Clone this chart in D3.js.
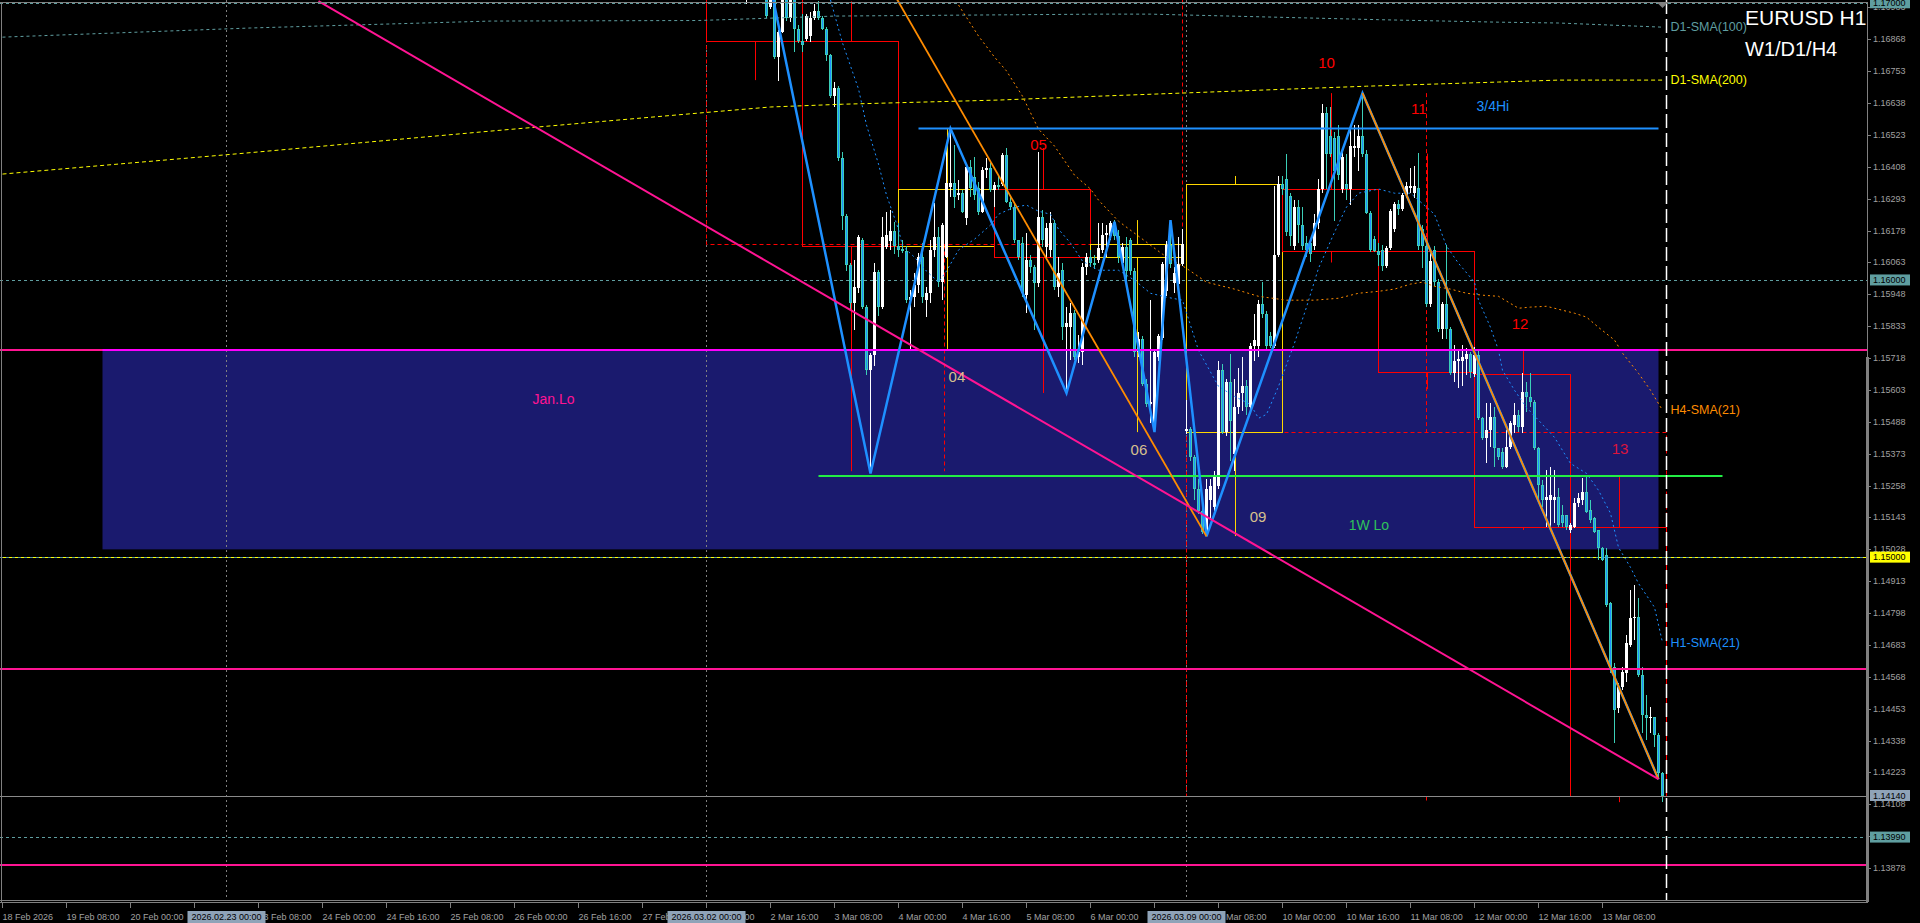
<!DOCTYPE html>
<html>
<head>
<meta charset="utf-8">
<script src="https://cdn.jsdelivr.net/npm/d3@7/dist/d3.min.js"></script>
<style>
html,body{margin:0;padding:0;background:#000;overflow:hidden;}
svg{display:block;}
text{font-family:"Liberation Sans",Arial,sans-serif;}
</style>
</head>
<body>
<svg id="chart" width="1920" height="923"></svg>
<script>
// ================= DATA =================
const titleText = "EURUSD H1";
const subTitleText = "W1/D1/H4";

// H1 bars [open, high, low, close]; one array per trading day
const mar02FirstHour = 10;
const mar02 = [
[1.17060,1.17150,1.16996,1.17110],[1.17110,1.17180,1.17040,1.17150],[1.17150,1.17200,1.17080,1.17100],
[1.17100,1.17140,1.17030,1.17060],[1.17060,1.17120,1.17030,1.17060],[1.17060,1.17090,1.16945,1.16952],
[1.16985,1.17060,1.16978,1.17030],[1.17030,1.17050,1.16797,1.16804],[1.16804,1.16902,1.16718,1.16894],
[1.16894,1.17050,1.16890,1.17020],[1.17020,1.17060,1.16934,1.16945],[1.16945,1.17040,1.16931,1.17020],
[1.17020,1.17040,1.16822,1.16905],[1.16905,1.16920,1.16855,1.16862]];
const mar03 = [
[1.16862,1.16960,1.16822,1.16848],[1.16869,1.16960,1.16862,1.16952],[1.16880,1.16967,1.16858,1.16945],
[1.16945,1.16996,1.16938,1.16970],[1.16970,1.17005,1.16938,1.16945],[1.16945,1.16952,1.16902,1.16905],
[1.16905,1.16913,1.16790,1.16812],[1.16812,1.16815,1.16656,1.16664],[1.16664,1.16714,1.16624,1.16692],
[1.16692,1.16700,1.16429,1.16440],[1.16440,1.16461,1.16180,1.16230],[1.16230,1.16237,1.16032,1.16053],
[1.16053,1.16061,1.15887,1.15916],[1.15916,1.16072,1.15819,1.15974],[1.15971,1.16162,1.15952,1.16154],
[1.16144,1.16151,1.15894,1.15902],[1.15902,1.15909,1.15657,1.15675],[1.15675,1.15736,1.15302,1.15729],
[1.15729,1.16061,1.15689,1.16028],[1.16028,1.16036,1.15869,1.15902],[1.15902,1.16227,1.15894,1.16154],
[1.16118,1.16245,1.16111,1.16162],[1.16140,1.16252,1.16108,1.16176],[1.16176,1.16209,1.16094,1.16122]];
const mar04 = [
[1.16122,1.16205,1.16083,1.16108],[1.16111,1.16144,1.16097,1.16104],[1.16104,1.16122,1.15916,1.15927],
[1.15927,1.15963,1.15747,1.15938],[1.15938,1.16025,1.15902,1.15981],[1.15981,1.16097,1.15952,1.16082],
[1.16082,1.16133,1.15916,1.15938],[1.15927,1.15974,1.15866,1.15952],[1.15952,1.16144,1.15916,1.16108],
[1.16108,1.16277,1.16083,1.16154],[1.16154,1.16191,1.15974,1.15992],[1.15992,1.16205,1.15927,1.16198],
[1.16083,1.16479,1.16080,1.16349],[1.16335,1.16546,1.16299,1.16349],[1.16349,1.16487,1.16259,1.16299],
[1.16306,1.16360,1.16288,1.16313],[1.16313,1.16324,1.16241,1.16245],[1.16223,1.16414,1.16198,1.16407],
[1.16407,1.16433,1.16299,1.16331],[1.16371,1.16443,1.16288,1.16306],[1.16331,1.16353,1.16234,1.16245],
[1.16245,1.16407,1.16241,1.16396],[1.16396,1.16440,1.16367,1.16404],[1.16404,1.16422,1.16317,1.16324]];
const mar05 = [
[1.16324,1.16353,1.16263,1.16342],[1.16342,1.16378,1.16324,1.16335],[1.16346,1.16458,1.16338,1.16451],
[1.16451,1.16476,1.16277,1.16281],[1.16281,1.16299,1.16252,1.16263],[1.16263,1.16277,1.16133,1.16144],
[1.16144,1.16144,1.16072,1.16083],[1.16133,1.16155,1.15938,1.15952],[1.15945,1.16169,1.15880,1.16072],
[1.16072,1.16090,1.16025,1.16046],[1.16046,1.16054,1.15819,1.15989],[1.15989,1.16461,1.15974,1.16227],
[1.16227,1.16252,1.16118,1.16144],[1.16118,1.16205,1.16072,1.16187],[1.16108,1.16245,1.16083,1.16205],
[1.16205,1.16216,1.15963,1.15974],[1.15974,1.16083,1.15938,1.16025],[1.16036,1.16061,1.15783,1.15830],
[1.15830,1.15902,1.15592,1.15844],[1.15830,1.15916,1.15711,1.15880],[1.15880,1.15891,1.15711,1.15721],
[1.15721,1.15800,1.15700,1.15740],[1.15740,1.16061,1.15693,1.16046],[1.16046,1.16097,1.16018,1.16083]];
const mar06 = [
[1.16083,1.16108,1.16046,1.16061],[1.16061,1.16090,1.16040,1.16054],[1.16072,1.16205,1.16061,1.16115],
[1.16108,1.16205,1.16097,1.16162],[1.16162,1.16198,1.16083,1.16169],[1.16158,1.16212,1.16144,1.16205],
[1.16205,1.16216,1.16144,1.16158],[1.16158,1.16180,1.16061,1.16083],[1.16061,1.16133,1.16046,1.16118],
[1.16118,1.16155,1.15992,1.16032],[1.16144,1.16151,1.16018,1.16032],[1.16032,1.16043,1.15721,1.15739],
[1.15739,1.15812,1.15721,1.15786],[1.15786,1.15797,1.15617,1.15624],[1.15624,1.15642,1.15541,1.15552],
[1.15552,1.15927,1.15483,1.15559],[1.15461,1.15747,1.15451,1.15739],[1.15721,1.15804,1.15707,1.15797],
[1.15790,1.16064,1.15783,1.16057],[1.15960,1.16140,1.15941,1.16126],[1.16126,1.16216,1.16043,1.16057],
[1.15989,1.16046,1.15952,1.16025],[1.15985,1.16155,1.15974,1.16057],[1.16057,1.16183,1.16050,1.16129]];
const mar09 = [
[1.15454,1.15566,1.15443,1.15461],[1.15461,1.15469,1.15346,1.15360],[1.15360,1.15367,1.15206,1.15245],
[1.15245,1.15281,1.15154,1.15165],[1.15165,1.15206,1.15082,1.15090],[1.15090,1.15281,1.15075,1.15245],
[1.15206,1.15281,1.15140,1.15256],[1.15180,1.15310,1.15165,1.15295],[1.15256,1.15707,1.15245,1.15675],
[1.15675,1.15696,1.15443,1.15451],[1.15451,1.15642,1.15436,1.15631],[1.15631,1.15732,1.15346,1.15490],
[1.15371,1.15642,1.15310,1.15541],[1.15541,1.15682,1.15515,1.15592],[1.15592,1.15721,1.15526,1.15617],
[1.15617,1.15639,1.15512,1.15541],[1.15541,1.15772,1.15515,1.15761],[1.15761,1.15877,1.15707,1.15783],
[1.15761,1.15927,1.15721,1.15913],[1.15913,1.15992,1.15862,1.15877],[1.15877,1.15887,1.15747,1.15761],
[1.15797,1.15812,1.15754,1.15761],[1.15761,1.16339,1.15754,1.16090],[1.16090,1.16375,1.16083,1.16346]];
const mar10 = [
[1.16346,1.16375,1.16306,1.16328],[1.16364,1.16454,1.16158,1.16173],[1.16302,1.16313,1.16122,1.16158],
[1.16122,1.16288,1.16108,1.16263],[1.16263,1.16288,1.16133,1.16198],[1.16198,1.16263,1.16108,1.16122],
[1.16133,1.16158,1.16083,1.16108],[1.16133,1.16147,1.16064,1.16093],[1.16122,1.16237,1.16108,1.16205],
[1.16205,1.16364,1.16183,1.16328],[1.16328,1.16635,1.16313,1.16602],[1.16602,1.16624,1.16328,1.16454],
[1.16519,1.16624,1.16443,1.16454],[1.16512,1.16534,1.16212,1.16393],[1.16519,1.16559,1.16360,1.16378],
[1.16328,1.16469,1.16313,1.16443],[1.16346,1.16454,1.16288,1.16328],[1.16328,1.16559,1.16270,1.16483],
[1.16476,1.16559,1.16443,1.16483],[1.16476,1.16559,1.16393,1.16519],[1.16519,1.16674,1.16443,1.16454],
[1.16454,1.16469,1.16237,1.16241],[1.16241,1.16248,1.16101,1.16108],[1.16147,1.16158,1.16101,1.16104]];
const mar11 = [
[1.16104,1.16133,1.16050,1.16090],[1.16108,1.16126,1.16032,1.16050],[1.16050,1.16122,1.16043,1.16115],
[1.16115,1.16255,1.16108,1.16248],[1.16183,1.16281,1.16173,1.16274],[1.16274,1.16288,1.16234,1.16255],
[1.16255,1.16313,1.16248,1.16306],[1.16306,1.16353,1.16295,1.16339],[1.16331,1.16404,1.16313,1.16339],
[1.16313,1.16411,1.16295,1.16339],[1.16331,1.16458,1.16108,1.16122],[1.16183,1.16198,1.16043,1.16122],
[1.16122,1.16133,1.15902,1.15913],[1.15913,1.16108,1.15902,1.16068],[1.16108,1.16122,1.15978,1.15992],
[1.15992,1.16003,1.15812,1.15823],[1.15823,1.15920,1.15786,1.15913],[1.15913,1.16126,1.15786,1.15823],
[1.15823,1.15830,1.15657,1.15664],[1.15664,1.15765,1.15631,1.15707],[1.15707,1.15747,1.15609,1.15714],
[1.15707,1.15765,1.15617,1.15721],[1.15714,1.15754,1.15657,1.15732],[1.15732,1.15739,1.15646,1.15667]];
const mar12 = [
[1.15660,1.15758,1.15650,1.15729],[1.15729,1.15747,1.15494,1.15501],[1.15501,1.15505,1.15422,1.15429],
[1.15429,1.15555,1.15339,1.15458],[1.15458,1.15555,1.15396,1.15505],[1.15505,1.15541,1.15324,1.15393],
[1.15393,1.15393,1.15350,1.15360],[1.15378,1.15393,1.15317,1.15324],[1.15324,1.15458,1.15321,1.15396],
[1.15396,1.15490,1.15389,1.15483],[1.15476,1.15555,1.15447,1.15512],[1.15512,1.15530,1.15451,1.15469],
[1.15469,1.15664,1.15447,1.15595],[1.15595,1.15631,1.15523,1.15577],[1.15577,1.15664,1.15541,1.15559],
[1.15559,1.15566,1.15386,1.15393],[1.15393,1.15396,1.15206,1.15260],[1.15260,1.15278,1.15180,1.15206],
[1.15206,1.15314,1.15108,1.15217],[1.15206,1.15324,1.15108,1.15224],[1.15206,1.15314,1.15122,1.15217],
[1.15217,1.15249,1.15108,1.15115],[1.15151,1.15187,1.15108,1.15122],[1.15151,1.15151,1.15097,1.15108]];
const mar13 = [
[1.15097,1.15122,1.15086,1.15115],[1.15108,1.15213,1.15104,1.15194],[1.15194,1.15231,1.15180,1.15213],
[1.15206,1.15285,1.15187,1.15234],[1.15234,1.15292,1.15159,1.15162],[1.15170,1.15206,1.15122,1.15133],
[1.15140,1.15144,1.15086,1.15090],[1.15097,1.15097,1.14989,1.15032],[1.15032,1.15036,1.14986,1.14989],
[1.15007,1.15032,1.14819,1.14826],[1.14833,1.14837,1.14581,1.14603],[1.14603,1.14617,1.14328,1.14448],
[1.14455,1.14545,1.14437,1.14530],[1.14530,1.14602,1.14520,1.14584],[1.14581,1.14718,1.14548,1.14689],
[1.14682,1.14881,1.14674,1.14779],[1.14779,1.14899,1.14700,1.14783],[1.14783,1.14851,1.14566,1.14573],
[1.14573,1.14602,1.14364,1.14429],[1.14429,1.14501,1.14340,1.14418],[1.14418,1.14458,1.14364,1.14425],
[1.14422,1.14422,1.14314,1.14357],[1.14357,1.14364,1.14205,1.14220],[1.14220,1.14224,1.14116,1.14140]];

// bar index (0 = 18 Feb 16:00) of each day's 00:00 bar, and of each day's end
const dayStartBar = [176,200,224,248,272,296,320,344,368,392];
const dayEndBar   = [200,224,248,272,295,320,344,368,392,416];
// Daily candles (D1) drawn as boxes; 2 Mar open/high lie above the visible range
const dailyOpen  = [1.17350,1.16862,1.16121,1.16327,1.16083,1.15453,1.16327,1.16103,1.15660,1.15109];
const dailyHigh  = [1.17500,1.17005,1.16546,1.16476,1.16216,1.16375,1.16674,1.16456,1.15747,1.15294];
const dailyLow   = [1.16721,1.15310,1.15747,1.15592,1.15451,1.15076,1.16063,1.15606,1.15098,1.14116];
const dailyClose = [1.16862,1.16121,1.16327,1.16083,1.16128,1.16345,1.16103,1.15667,1.15109,1.14140];
// Weekly candles (W1); week-1 open/high lie above the visible range
const weekStartBar = [176,296];
const weekEndBar   = [295,416];
const weekOpen  = [1.17800,1.15453];
const weekHigh  = [1.17900,1.16674];
const weekLow   = [1.15310,1.14116];
const weekClose = [1.16128,1.14140];

// Day number labels
const dayLabelText  = ["04","05","06","09","10","11","12","13"];
const dayLabelBar   = [238.6,259,284.1,313.9,331,354.1,379.4,404.4];
const dayLabelPrice = [1.15651,1.16490,1.15390,1.15147,1.16785,1.16617,1.15844,1.15393];

// Moving averages [bar, value]
const h1SmaBar = [207,210,214,216,219,221,224,225,228,231,234,236,239,243,247,249,253,256,259,262,264,267,270,274,279,283,287,291,295,299,304,308,312,314,316,319,323,326,329,333,336,339,344,348,352,354,358,361,364,368,369,372,374,375,378,381,384,388,392,396,399,402,404,407,409,413,415];
const h1SmaVal = [1.17010,1.16855,1.16689,1.16559,1.16418,1.16306,1.16183,1.16122,1.16082,1.16032,1.15992,1.16032,1.16108,1.16147,1.16198,1.16237,1.16263,1.16270,1.16248,1.16237,1.16183,1.16133,1.16068,1.16035,1.16035,1.15999,1.15952,1.15938,1.15927,1.15746,1.15616,1.15580,1.15551,1.15501,1.15515,1.15616,1.15772,1.15902,1.16042,1.16172,1.16263,1.16313,1.16328,1.16313,1.16313,1.16288,1.16237,1.16122,1.16060,1.15992,1.15927,1.15829,1.15746,1.15674,1.15602,1.15540,1.15494,1.15432,1.15338,1.15302,1.15241,1.15158,1.15035,1.14963,1.14905,1.14819,1.14692];
const h4SmaBar = [239,244,248,251,255,259,263,268,272,274,279,284,290,296,301,308,314,321,328,334,339,344,348,352,355,358,362,366,370,374,379,382,386,393,396,399,403,405,409,412,415];
const h4SmaVal = [1.16992,1.16880,1.16804,1.16754,1.16663,1.16544,1.16483,1.16378,1.16328,1.16288,1.16212,1.16158,1.16093,1.16042,1.15992,1.15967,1.15941,1.15927,1.15927,1.15934,1.15952,1.15959,1.15967,1.15985,1.15992,1.15977,1.15967,1.15952,1.15945,1.15941,1.15898,1.15902,1.15905,1.15880,1.15866,1.15829,1.15783,1.15736,1.15663,1.15602,1.15530];
const d1Sma100Bar = [0,62,122,174,208,274,287,344,374,389,415];
const d1Sma100Val = [1.16876,1.16909,1.16934,1.16936,1.16952,1.16959,1.16959,1.16939,1.16930,1.16927,1.16912];
const d1Sma200Bar = [0,61,122,174,192,210,249,274,341,374,389,415];
const d1Sma200Val = [1.16382,1.16458,1.16537,1.16602,1.16624,1.16634,1.16649,1.16663,1.16699,1.16714,1.16721,1.16721];

// ZigZag swing points
const zigBlueBar   = [192,217,237,266,278,288,292,301,340,414];
const zigBluePrice = [1.17060,1.15302,1.16546,1.15592,1.16210,1.15451,1.16216,1.15075,1.16674,1.14199];
const zigOrangeLegs = [[[206,1.17454],[301,1.15075]],[[340,1.16674],[414,1.14199]]];

// Trend line
const trendBar = [79,414];
const trendPrice = [1.17006,1.14199];

// Horizontal levels
const roundLevels = [1.17000,1.16000,1.15000,1.13990];
const pinkLevels = [1.15747,1.14596,1.13889];
const bidPrice = 1.14140;
const janLo = {start:25,end:414,top:1.15747,bottom:1.15028};
const hi34 = {start:229,end:414,price:1.16546};
const wkLo = {start:204,end:430,price:1.15293};
const textLabels = [
  {t:"Jan.Lo", bar:137.75, price:1.15570},
  {t:"3/4Hi",  bar:372.6,  price:1.16627},
  {t:"1W Lo",  bar:341.6,  price:1.15117}
];

// Axes
const priceTicks = [1.16983,1.16868,1.16753,1.16638,1.16523,1.16408,1.16293,1.16178,1.16063,1.15948,1.15833,1.15718,1.15603,1.15488,1.15373,1.15258,1.15143,1.15028,1.14913,1.14798,1.14683,1.14568,1.14453,1.14338,1.14223,1.14108,1.13993,1.13878];
const markPrices = [1.17000,1.16000,1.15000,1.14140,1.13990];
const timeTickBar = [0,16,32,48,64,80,96,112,128,144,160,176,192,208,224,240,256,272,288,304,320,336,352,368,384,400];
const timeTickLabel = ["18 Feb 2026","19 Feb 08:00","20 Feb 00:00","20 Feb 16:00","23 Feb 08:00","24 Feb 00:00","24 Feb 16:00","25 Feb 08:00","26 Feb 00:00","26 Feb 16:00","27 Feb 08:00","2 Mar 00:00","2 Mar 16:00","3 Mar 08:00","4 Mar 00:00","4 Mar 16:00","5 Mar 08:00","6 Mar 00:00","6 Mar 16:00","9 Mar 08:00","10 Mar 00:00","10 Mar 16:00","11 Mar 08:00","12 Mar 00:00","12 Mar 16:00","13 Mar 08:00"];
const sepBar = [56,176,296];
const sepLabel = ["2026.02.23 00:00","2026.03.02 00:00","2026.03.09 00:00"];
const nowBar = 416;

// ================= DRAW =================
const svg = d3.select("#chart");
const PW = 1867, PH = 900;
const x = d3.scaleLinear().domain([0,1]).range([2.5,6.5]);      // 4 px per H1 bar
const y = d3.scaleLinear().domain([1.13763,1.17010]).range([PH,0]);
const yc = p => Math.round(y(p)) + 0.5;

svg.append("rect").attr("width",1920).attr("height",923).attr("fill","#000");
svg.append("defs").append("clipPath").attr("id","plot")
  .append("rect").attr("x",0).attr("y",0).attr("width",PW).attr("height",PH);
const g = svg.append("g").attr("clip-path","url(#plot)");

// Jan.Lo zone
g.append("rect").attr("x",x(janLo.start)).attr("y",y(janLo.top))
  .attr("width",x(janLo.end)-x(janLo.start)).attr("height",y(janLo.bottom)-y(janLo.top))
  .attr("fill","#1a1a6e");

// period separators
g.selectAll(".sep").data(sepBar).join("line")
  .attr("x1",d=>x(d)).attr("x2",d=>x(d)).attr("y1",0).attr("y2",PH)
  .attr("stroke","#808080").attr("stroke-dasharray","2,3");

// round level lines
g.selectAll(".rl").data(roundLevels).join("line")
  .attr("x1",0).attr("x2",PW).attr("y1",d=>yc(d)).attr("y2",d=>yc(d))
  .attr("stroke","#5f9ea0").attr("stroke-dasharray","3,3");
g.append("line").attr("x1",3).attr("x2",PW).attr("y1",yc(1.15)).attr("y2",yc(1.15))
  .attr("stroke","#ffff00").attr("stroke-dasharray","3,3");

// weekly boxes (dashed)
const wk = g.append("g").attr("fill","none").attr("stroke-dasharray","4,3");
weekStartBar.forEach((s,i)=>{
  const col = weekClose[i] >= weekOpen[i] ? "#ffd700" : "#ff0000";
  const yt = yc(Math.max(weekOpen[i],weekClose[i])), yb = yc(Math.min(weekOpen[i],weekClose[i]));
  wk.append("rect").attr("x",x(s)).attr("y",yt).attr("width",x(weekEndBar[i])-x(s))
    .attr("height",yb-yt).attr("stroke",col);
  const xm = x((s+weekEndBar[i])/2);
  wk.append("line").attr("x1",xm).attr("x2",xm).attr("y1",y(weekHigh[i])).attr("y2",yt).attr("stroke",col);
  wk.append("line").attr("x1",xm).attr("x2",xm).attr("y1",yb).attr("y2",y(weekLow[i])).attr("stroke",col);
});

// daily boxes
const dy = g.append("g").attr("fill","none");
dayStartBar.forEach((s,i)=>{
  const col = dailyClose[i] >= dailyOpen[i] ? "#ffd700" : "#ff0000";
  const yt = yc(Math.max(dailyOpen[i],dailyClose[i]));
  const yb = yc(Math.min(dailyOpen[i],dailyClose[i]));
  dy.append("rect").attr("x",x(s)).attr("y",yt).attr("width",x(dayEndBar[i])-x(s))
    .attr("height",yb-yt).attr("stroke",col);
  const xm = Math.round(x((s+dayEndBar[i])/2))+0.5;
  dy.append("line").attr("x1",xm).attr("x2",xm).attr("y1",y(dailyHigh[i])).attr("y2",yt).attr("stroke",col);
  dy.append("line").attr("x1",xm).attr("x2",xm).attr("y1",yb).attr("y2",y(dailyLow[i])).attr("stroke",col);
});

// H1 candles
const dayBars = [mar02,mar03,mar04,mar05,mar06,mar09,mar10,mar11,mar12,mar13];
const candles = dayBars.flatMap((arr,k)=>arr.map((b,i)=>({
  bar: dayStartBar[k] + (k===0 ? mar02FirstHour : 0) + i, o:b[0], h:b[1], l:b[2], c:b[3]})));
const cg = g.append("g").attr("shape-rendering","crispEdges");
const BULL = "#ffffff", BEAR_EDGE = "#3ccfb8", BEAR_FILL = "#1e90ff";
candles.forEach(d=>{
  const bull = d.c >= d.o, cx = x(d.bar);
  cg.append("line").attr("x1",cx).attr("x2",cx).attr("y1",y(d.h)).attr("y2",y(d.l))
    .attr("stroke", bull ? BULL : BEAR_EDGE);
  const top = Math.round(y(Math.max(d.o,d.c))), bot = Math.round(y(Math.min(d.o,d.c)));
  const hgt = Math.max(1, bot-top);
  cg.append("rect").attr("x",cx-1.5).attr("y",top).attr("width",3).attr("height",hgt)
    .attr("fill", bull ? BULL : BEAR_EDGE);
  if (!bull && hgt > 2)
    cg.append("rect").attr("x",cx-0.5).attr("y",top+1).attr("width",1).attr("height",hgt-2).attr("fill",BEAR_FILL);
});

// moving averages
const line = d3.line().x(d=>x(d[0])).y(d=>y(d[1]));
function ma(bars, vals, col, dash){
  g.append("path").attr("d", line(bars.map((b,i)=>[b,vals[i]])))
    .attr("fill","none").attr("stroke",col).attr("stroke-width",1).attr("stroke-dasharray",dash);
}
ma(d1Sma100Bar,d1Sma100Val,"#5f9ea0","3,3");
ma(d1Sma200Bar,d1Sma200Val,"#ffff00","4,3");
ma(h4SmaBar,h4SmaVal,"#ff8c00","2,3");
ma(h1SmaBar,h1SmaVal,"#1e90ff","2,3");

// horizontal pink levels
g.selectAll(".pk").data(pinkLevels).join("line")
  .attr("x1",0).attr("x2",PW).attr("y1",d=>y(d)).attr("y2",d=>y(d))
  .attr("stroke","#ff1493").attr("stroke-width",2);
g.append("line").attr("x1",x(janLo.start)).attr("x2",x(janLo.end))
  .attr("y1",y(janLo.top)).attr("y2",y(janLo.top)).attr("stroke","#ff00ff").attr("stroke-width",2);

// 3/4 Hi and 1W Lo
g.append("line").attr("x1",x(hi34.start)).attr("x2",x(hi34.end))
  .attr("y1",y(hi34.price)).attr("y2",y(hi34.price)).attr("stroke","#1e90ff").attr("stroke-width",2);
g.append("line").attr("x1",x(wkLo.start)).attr("x2",x(wkLo.end))
  .attr("y1",y(wkLo.price)).attr("y2",y(wkLo.price)).attr("stroke","#22ee44").attr("stroke-width",2);

// zigzags
g.append("path").attr("d", line(zigBlueBar.map((b,i)=>[b,zigBluePrice[i]])))
  .attr("fill","none").attr("stroke","#1e90ff").attr("stroke-width",2.5);
zigOrangeLegs.forEach(leg=>{
  g.append("path").attr("d", line(leg)).attr("fill","none").attr("stroke","#ff8c00").attr("stroke-width",1.8);
});

// trend line
g.append("path").attr("d", line(trendBar.map((b,i)=>[b,trendPrice[i]])))
  .attr("fill","none").attr("stroke","#ff1493").attr("stroke-width",2);

// bid line
g.append("line").attr("x1",0).attr("x2",PW).attr("y1",yc(bidPrice)).attr("y2",yc(bidPrice))
  .attr("stroke","#8a8a8a");

// day labels
const dayCol = dayLabelText.map((t,i)=>{
  const k = dayStartBar.findIndex((s,j)=> dayLabelBar[i] >= s && dayLabelBar[i] < dayEndBar[j]);
  return dailyClose[k] >= dailyOpen[k] ? "#d6c08e" : (k === dayStartBar.length-1 ? "#dc143c" : "#ff0000");
});
g.selectAll(".dl").data(dayLabelText).join("text")
  .attr("x",(d,i)=>x(dayLabelBar[i])).attr("y",(d,i)=>y(dayLabelPrice[i]))
  .attr("text-anchor","middle").attr("dominant-baseline","central")
  .attr("font-size",15).attr("fill",(d,i)=>dayCol[i]).text(d=>d);

const labelCols = ["#ff1493","#1e90ff","#2fc25b"];
g.selectAll(".tl").data(textLabels).join("text")
  .attr("x",d=>x(d.bar)).attr("y",d=>y(d.price))
  .attr("text-anchor","middle").attr("dominant-baseline","central")
  .attr("font-size",14).attr("fill",(d,i)=>labelCols[i]).text(d=>d.t);

// MA end labels
const maLabels = [
  {t:"D1-SMA(100)", bar:d1Sma100Bar.at(-1), v:d1Sma100Val.at(-1), c:"#5f9ea0"},
  {t:"D1-SMA(200)", bar:d1Sma200Bar.at(-1), v:d1Sma200Val.at(-1), c:"#ffff00"},
  {t:"H4-SMA(21)",  bar:h4SmaBar.at(-1),   v:h4SmaVal.at(-1),   c:"#ff8c00"},
  {t:"H1-SMA(21)",  bar:h1SmaBar.at(-1),   v:h1SmaVal.at(-1),   c:"#1e90ff"}
];
g.selectAll(".ml").data(maLabels).join("text")
  .attr("x",d=>x(d.bar)+8).attr("y",d=>y(d.v))
  .attr("dominant-baseline","central").attr("font-size",12.5).attr("fill",d=>d.c).text(d=>d.t);

// now line
g.append("line").attr("x1",x(nowBar)).attr("x2",x(nowBar)).attr("y1",0).attr("y2",PH)
  .attr("stroke","#ffffff").attr("stroke-width",1.5).attr("stroke-dasharray","14,5");

// title
svg.append("text").attr("x",1745).attr("y",25).attr("font-size",21).attr("fill","#ffffff").text(titleText);
svg.append("text").attr("x",1745).attr("y",56).attr("font-size",20).attr("fill","#ffffff").text(subTitleText);

// frame
svg.append("line").attr("x1",0).attr("x2",PW+1).attr("y1",2.5).attr("y2",2.5).attr("stroke","#808080");
svg.append("line").attr("x1",1.5).attr("x2",1.5).attr("y1",2).attr("y2",PH+2).attr("stroke","#808080");
svg.append("line").attr("x1",PW+0.5).attr("x2",PW+0.5).attr("y1",2).attr("y2",PH+2).attr("stroke","#808080");
svg.append("rect").attr("x",PW-1).attr("y",357).attr("width",3).attr("height",PH-357+2).attr("fill","#808080");
svg.append("line").attr("x1",0).attr("x2",PW+1).attr("y1",PH+0.5).attr("y2",PH+0.5).attr("stroke","#808080");
svg.append("line").attr("x1",0).attr("x2",PW+1).attr("y1",PH+2.5).attr("y2",PH+2.5).attr("stroke","#808080");
svg.append("path").attr("d",`M${x(415)-5},3 L${x(415)+5},3 L${x(415)},8 Z`).attr("fill","#808080");

// right axis
const ra = svg.append("g");
ra.selectAll("line").data(priceTicks).join("line")
  .attr("x1",PW+1).attr("x2",PW+4).attr("y1",d=>yc(d)).attr("y2",d=>yc(d)).attr("stroke","#808080");
ra.selectAll("text").data(priceTicks).join("text")
  .attr("x",PW+6).attr("y",d=>y(d)).attr("dominant-baseline","central")
  .attr("font-size",9).attr("fill","#a0a0a0").text(d=>d.toFixed(5));
const markBg = ["#5f9ea0","#5f9ea0","#ffff00","#8fa3b8","#5f9ea0"];
markPrices.forEach((p,i)=>{
  ra.append("rect").attr("x",PW+3).attr("y",y(p)-5.5).attr("width",40).attr("height",11).attr("fill",markBg[i]);
  ra.append("text").attr("x",PW+6).attr("y",y(p)).attr("dominant-baseline","central")
    .attr("font-size",9).attr("fill","#000").text(p.toFixed(5));
});

// bottom axis
const ba = svg.append("g");
ba.selectAll("line").data(timeTickBar).join("line")
  .attr("x1",d=>x(d)).attr("x2",d=>x(d)).attr("y1",PH+3).attr("y2",PH+8).attr("stroke","#808080");
ba.selectAll("text").data(timeTickBar).join("text")
  .attr("x",d=>x(d)).attr("y",920).attr("font-size",9).attr("fill","#a0a0a0")
  .text((d,i)=>timeTickLabel[i]);
sepBar.forEach((b,i)=>{
  ba.append("rect").attr("x",x(b)-39).attr("y",911).attr("width",78).attr("height",13).attr("fill","#8fa3b8");
  ba.append("text").attr("x",x(b)).attr("y",920).attr("text-anchor","middle")
    .attr("font-size",9).attr("fill","#000").text(sepLabel[i]);
});
</script>
</body>
</html>
